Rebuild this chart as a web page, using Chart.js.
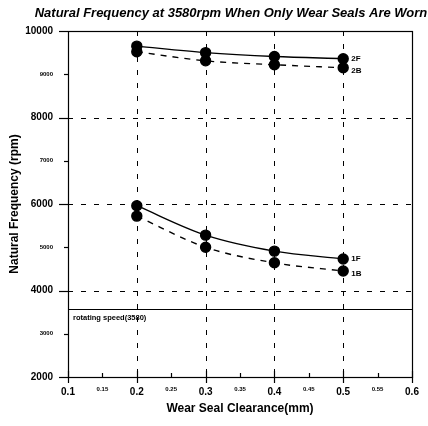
<!DOCTYPE html>
<html>
<head>
<meta charset="utf-8">
<script src="https://cdn.jsdelivr.net/npm/chart.js@4/dist/chart.umd.min.js"></script>
<style>
  html, body { margin: 0; padding: 0; background: #fff; }
  #wrap { width: 428px; height: 426px; position: relative; }
</style>
</head>
<body>
<div id="wrap"><canvas id="chart" width="428" height="426"></canvas></div>
<script>
// Datos
const clearance = [0.2, 0.3, 0.4, 0.5];
const freq2F = [9650, 9500, 9410, 9360];
const freq2B = [9520, 9310, 9220, 9150];
const freq1F = [5960, 5280, 4910, 4730];
const freq1B = [5720, 5000, 4640, 4450];
const rotatingSpeed = 3580;

const xTicks = [0.1, 0.15, 0.2, 0.25, 0.3, 0.35, 0.4, 0.45, 0.5, 0.55, 0.6];
const xMajor = [0.1, 0.2, 0.3, 0.4, 0.5, 0.6];
const yTicks = [2000, 3000, 4000, 5000, 6000, 7000, 8000, 9000, 10000];
const yMajor = [2000, 4000, 6000, 8000, 10000];
const xGrid = [0.2, 0.3, 0.4, 0.5];
const yGrid = [4000, 6000, 8000];

const FONT = '"Liberation Sans", Arial, sans-serif';
const isMajor = (list, v) => list.some(m => Math.abs(m - v) < 1e-6);
const bigFont = { family: FONT, size: 10, weight: 'bold' };
const smallFont = { family: FONT, size: 6, weight: 'bold' };
const tickFont = (list) => (c) => (c.tick && !isMajor(list, c.tick.value)) ? smallFont : bigFont;

const toPoints = (ys) => clearance.map((x, i) => ({ x, y: ys[i] }));

const series = [
    { label: '2F', data: freq2F, dash: [] },
    { label: '2B', data: freq2B, dash: [6, 6] },
    { label: '1F', data: freq1F, dash: [] },
    { label: '1B', data: freq1B, dash: [6, 6] },
];

// Rejilla, marcas, marco y etiquetas extra
const extras = {
    id: 'extras',
    beforeDatasetsDraw(chart) {
        const { ctx, chartArea: a, scales: { x, y } } = chart;
        ctx.save();
        ctx.strokeStyle = '#000';
        ctx.lineWidth = 1;
        ctx.setLineDash([5, 8]);
        xGrid.forEach(v => {
            const px = Math.round(x.getPixelForValue(v)) + 0.5;
            ctx.beginPath(); ctx.moveTo(px, a.top); ctx.lineTo(px, a.bottom); ctx.stroke();
        });
        yGrid.forEach(v => {
            const py = Math.round(y.getPixelForValue(v)) + 0.5;
            ctx.beginPath(); ctx.moveTo(a.left, py); ctx.lineTo(a.right, py); ctx.stroke();
        });
        ctx.setLineDash([]);
        // marco
        ctx.lineWidth = 1.2;
        ctx.strokeRect(a.left + 0.5, a.top + 0.5, a.right - a.left, a.bottom - a.top);
        // marcas
        yTicks.forEach(v => {
            const py = Math.round(y.getPixelForValue(v)) + 0.5;
            const len = isMajor(yMajor, v) ? 9 : 4;
            ctx.beginPath(); ctx.moveTo(a.left - len, py); ctx.lineTo(a.left, py); ctx.stroke();
        });
        xTicks.forEach(v => {
            const px = Math.round(x.getPixelForValue(v)) + 0.5;
            const major = isMajor(xMajor, v);
            ctx.beginPath();
            ctx.moveTo(px, a.bottom - (major ? 6 : 4));
            ctx.lineTo(px, a.bottom + (major ? 6 : 0));
            ctx.stroke();
        });
        // velocidad de giro
        const ry = Math.round(y.getPixelForValue(rotatingSpeed)) + 0.5;
        ctx.lineWidth = 1.2;
        ctx.beginPath(); ctx.moveTo(a.left, ry); ctx.lineTo(a.right, ry); ctx.stroke();
        ctx.fillStyle = '#000';
        ctx.font = 'bold 7.5px ' + FONT;
        ctx.textBaseline = 'top';
        ctx.textAlign = 'left';
        ctx.fillText('rotating speed(' + rotatingSpeed + ')', a.left + 5, ry + 5);
        ctx.restore();
    },
    afterDatasetsDraw(chart) {
        const { ctx } = chart;
        ctx.save();
        ctx.fillStyle = '#000';
        ctx.font = 'bold 8px ' + FONT;
        ctx.textBaseline = 'middle';
        ctx.textAlign = 'left';
        chart.data.datasets.forEach((ds, i) => {
            const meta = chart.getDatasetMeta(i);
            const last = meta.data[meta.data.length - 1];
            const off = ds.label.endsWith('B') ? 3 : 0;
            ctx.fillText(ds.label, last.x + 8, last.y + off);
        });
        // título
        ctx.font = 'italic bold 13px ' + FONT;
        ctx.textAlign = 'center';
        ctx.fillText('Natural Frequency at 3580rpm When Only Wear Seals Are Worn', 231, 13);
        ctx.restore();
    }
};

new Chart(document.getElementById('chart'), {
    type: 'line',
    data: {
        datasets: series.map(s => ({
            label: s.label,
            data: toPoints(s.data),
            borderColor: '#000',
            backgroundColor: '#000',
            borderWidth: 1.4,
            borderDash: s.dash,
            pointRadius: 5,
            pointHoverRadius: 5,
            pointBackgroundColor: '#000',
            pointBorderColor: '#000',
            cubicInterpolationMode: 'monotone',
            fill: false,
        }))
    },
    options: {
        responsive: false,
        animation: false,
        layout: { padding: { top: 31, right: 16, left: 0, bottom: 0 } },
        plugins: { legend: { display: false }, tooltip: { enabled: false }, title: { display: false } },
        scales: {
            x: {
                type: 'linear', min: 0.1, max: 0.6,
                afterBuildTicks: (s) => { s.ticks = xTicks.map(v => ({ value: v })); },
                afterFit: (s) => { s.height = 49; },
                grid: { display: false, drawTicks: false },
                border: { display: false },
                ticks: {
                    color: '#000', padding: 9, maxRotation: 0, autoSkip: false,
                    callback: (v) => isMajor(xMajor, v) ? String(v) : v.toFixed(2),
                    font: tickFont(xMajor),
                },
                title: { display: true, text: 'Wear Seal Clearance(mm)', color: '#000',
                    padding: { top: 0, bottom: 10 },
                    font: { family: FONT, size: 12, weight: 'bold' } },
            },
            y: {
                type: 'linear', min: 2000, max: 10000,
                afterBuildTicks: (s) => { s.ticks = yTicks.map(v => ({ value: v })); },
                afterFit: (s) => { s.width = 68; },
                grid: { display: false, drawTicks: false },
                border: { display: false },
                ticks: {
                    color: '#000', padding: 15, autoSkip: false,
                    callback: (v) => String(v),
                    font: tickFont(yMajor),
                },
                title: { display: true, text: 'Natural Frequency (rpm)', color: '#000',
                    padding: { top: 7, bottom: 0 },
                    font: { family: FONT, size: 12, weight: 'bold' } },
            }
        }
    },
    plugins: [extras]
});
</script>
</body>
</html>
